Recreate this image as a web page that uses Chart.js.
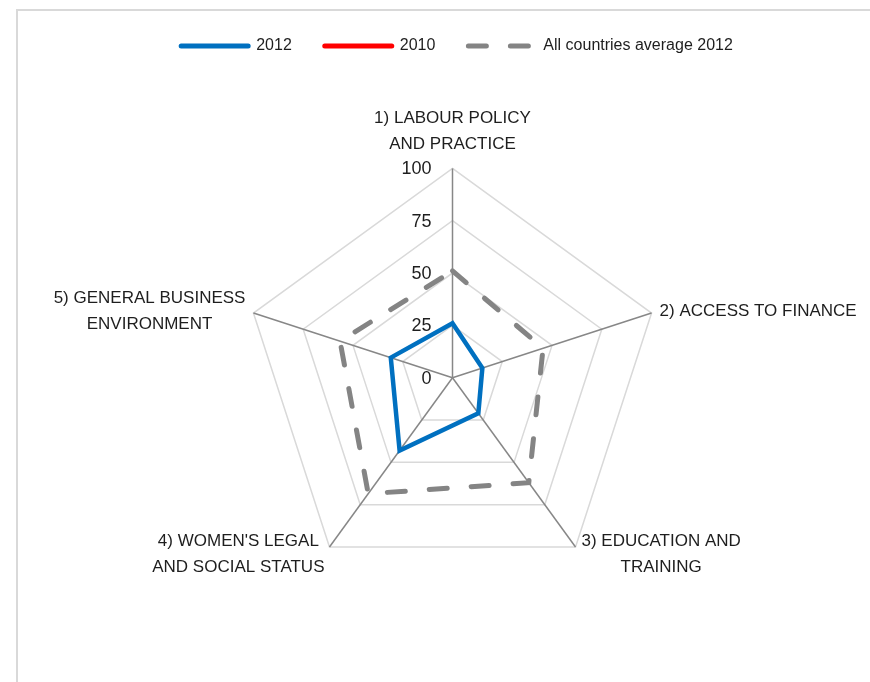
<!DOCTYPE html>
<html>
<head>
<meta charset="utf-8">
<script src="https://cdn.jsdelivr.net/npm/chart.js@4.4.1/dist/chart.umd.min.js"></script>
<style>
  html, body { margin: 0; padding: 0; background: #fff; }
  #wrap { position: relative; width: 870px; height: 682px; overflow: hidden; }
  #frame { position: absolute; left: 16px; top: 9px; width: 900px; height: 700px;
           border-left: 2px solid #d9d9d9; border-top: 2px solid #d9d9d9; }
  canvas { position: absolute; left: 0; top: 0; }
</style>
</head>
<body>
<div id="wrap">
  <div id="frame"></div>
  <canvas id="radarChart" width="870" height="682"></canvas>
</div>
<script>
// categories (axis labels, split into lines)
const categories = [
    ['1) LABOUR POLICY', 'AND PRACTICE'],
    ['2) ACCESS TO FINANCE'],
    ['3) EDUCATION AND', 'TRAINING'],
    ["4) WOMEN'S LEGAL", 'AND SOCIAL STATUS'],
    ['5) GENERAL BUSINESS', 'ENVIRONMENT']
];

// series values
const values2012 = [26, 15, 21, 43, 31];
const values2010 = [null, null, null, null, null];
const valuesAverage2012 = [51, 45.5, 62, 68.5, 56.5];

const tickLabels = [0, 25, 50, 75, 100];

// where the plot sits on the page
const CENTER_X = 452.5;
const CENTER_Y = 377.7;
const RADIUS = 209.3;

const TEXT_COLOR = '#1e1e1e';
const FONT = 'Liberation Sans';

Chart.defaults.font.family = FONT;
Chart.defaults.color = TEXT_COLOR;

// axis labels and tick labels, placed like the spreadsheet does it
const labelPlugin = {
    id: 'excelLabels',
    afterDraw(chart) {
        const scale = chart.scales.r;
        const ctx = chart.ctx;
        ctx.save();
        ctx.fillStyle = TEXT_COLOR;

        // tick values, right aligned left of the top axis
        ctx.font = '18px ' + FONT;
        ctx.textAlign = 'right';
        ctx.textBaseline = 'middle';
        tickLabels.forEach(v => {
            const d = scale.getDistanceFromCenterForValue(v);
            ctx.fillText(String(v), scale.xCenter - 21, scale.yCenter - d + 1);
        });

        // category labels
        ctx.font = '17px ' + FONT;
        ctx.textAlign = 'center';
        const lineGap = 26;
        categories.forEach((lines, i) => {
            const p = scale.getPointPosition(i, scale.drawingArea);
            const w = Math.max(...lines.map(t => ctx.measureText(t).width));
            let cx, firstY;
            if (i === 0) {
                cx = p.x;
                firstY = p.y - 24 - (lines.length - 1) * lineGap;
            } else if (i === 1) {
                cx = p.x + 8 + w / 2;
                firstY = p.y - 2 - (lines.length - 1) * lineGap / 2;
            } else if (i === 2) {
                cx = p.x + 6 + w / 2;
                firstY = p.y - 6;
            } else if (i === 3) {
                cx = p.x - 5 - w / 2;
                firstY = p.y - 6;
            } else {
                cx = p.x - 8 - w / 2;
                firstY = p.y - 2 - (lines.length - 1) * lineGap / 2;
            }
            lines.forEach((t, k) => ctx.fillText(t, cx, firstY + k * lineGap));
        });
        ctx.restore();
    }
};

new Chart(document.getElementById('radarChart'), {
    type: 'radar',
    data: {
        labels: categories,
        datasets: [
            {
                label: '2012',
                data: values2012,
                borderColor: '#0070c0',
                backgroundColor: '#0070c0',
                borderWidth: 4.5,
                fill: false,
                pointRadius: 0,
                pointHoverRadius: 0
            },
            {
                label: '2010',
                data: values2010,
                borderColor: '#ff0000',
                backgroundColor: '#ff0000',
                borderWidth: 4.5,
                fill: false,
                pointRadius: 0,
                pointHoverRadius: 0
            },
            {
                label: 'All countries average 2012',
                data: valuesAverage2012,
                borderColor: '#848484',
                backgroundColor: '#848484',
                borderWidth: 5,
                borderDash: [18, 24],
                borderCapStyle: 'round',
                fill: false,
                pointRadius: 0,
                pointHoverRadius: 0
            }
        ]
    },
    options: {
        responsive: false,
        animation: false,
        layout: { padding: { left: 44, top: 5 } },
        plugins: {
            tooltip: { enabled: false },
            legend: {
                position: 'top',
                labels: {
                    usePointStyle: true,
                    pointStyle: 'line',
                    pointStyleWidth: 67,
                    padding: 33,
                    color: TEXT_COLOR,
                    font: { size: 16, family: FONT },
                    generateLabels(chart) {
                        const items = Chart.defaults.plugins.legend.labels.generateLabels(chart);
                        items.forEach(item => {
                            const ds = chart.data.datasets[item.datasetIndex];
                            item.lineDash = ds.borderDash || [];
                            item.lineWidth = 5;
                            item.lineCap = 'round';
                            item.strokeStyle = ds.borderColor;
                        });
                        return items;
                    }
                }
            }
        },
        scales: {
            r: {
                min: 0,
                max: 100,
                ticks: { stepSize: 25, display: false },
                pointLabels: { display: false },
                grid: { color: '#d9d9d9', lineWidth: 1.5 },
                angleLines: { color: '#878787', lineWidth: 1.5 },
                afterFit(scale) {
                    scale.xCenter = CENTER_X;
                    scale.yCenter = CENTER_Y;
                    scale.drawingArea = RADIUS;
                }
            }
        }
    },
    plugins: [labelPlugin]
});
</script>
</body>
</html>
